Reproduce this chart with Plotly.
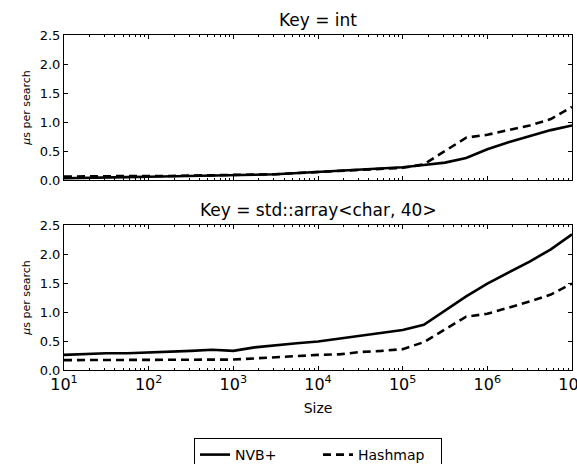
import plotly.graph_objects as go
from plotly.subplots import make_subplots

# Data (sizes at quarter-decade steps)
sizes = [10, 17.78, 31.62, 56.23, 100, 177.8, 316.2, 562.3, 1000, 1778, 3162, 5623,
         1e4, 1.778e4, 3.162e4, 5.623e4, 1e5, 1.778e5, 3.162e5, 5.623e5, 1e6,
         1.778e6, 3.162e6, 5.623e6, 1e7]

int_nvb = [0.03, 0.04, 0.045, 0.05, 0.055, 0.06, 0.065, 0.07, 0.08, 0.09, 0.10, 0.12,
           0.14, 0.16, 0.18, 0.20, 0.22, 0.26, 0.30, 0.38, 0.53, 0.65, 0.75, 0.86, 0.94]
int_hash = [0.06, 0.065, 0.065, 0.07, 0.07, 0.07, 0.075, 0.075, 0.08, 0.09, 0.10, 0.12,
            0.14, 0.16, 0.17, 0.19, 0.21, 0.27, 0.50, 0.73, 0.78, 0.86, 0.94, 1.05, 1.26]

arr_nvb = [0.26, 0.28, 0.29, 0.29, 0.30, 0.31, 0.33, 0.35, 0.33, 0.39, 0.43, 0.46,
           0.49, 0.54, 0.59, 0.64, 0.69, 0.78, 1.02, 1.27, 1.49, 1.68, 1.87, 2.08, 2.34]
arr_hash = [0.17, 0.17, 0.18, 0.17, 0.17, 0.17, 0.17, 0.17, 0.18, 0.20, 0.22, 0.25,
            0.26, 0.27, 0.31, 0.33, 0.36, 0.48, 0.70, 0.92, 0.97, 1.07, 1.18, 1.30, 1.49]

titles = ["Key = int", "Key = std::array&lt;char, 40&gt;"]
series_names = ["NVB+", "Hashmap"]
xtick_vals = [10, 100, 1000, 1e4, 1e5, 1e6, 1e7]
xtick_text = ["10<sup>1</sup>", "10<sup>2</sup>", "10<sup>3</sup>", "10<sup>4</sup>",
              "10<sup>5</sup>", "10<sup>6</sup>", "10<sup>7</sup>"]
ytick_vals = [0.0, 0.5, 1.0, 1.5, 2.0, 2.5]

FONT = "DejaVu Sans"
plot_h = 464 - 35 - 94
vspace = 45 / plot_h

fig = make_subplots(rows=2, cols=1, vertical_spacing=vspace)

data = [(int_nvb, int_hash), (arr_nvb, arr_hash)]
for r, (nvb, hsh) in enumerate(data, start=1):
    fig.add_trace(go.Scatter(x=sizes, y=nvb, mode="lines", name=series_names[0],
                             line=dict(color="black", width=2.6),
                             showlegend=(r == 1)), row=r, col=1)
    fig.add_trace(go.Scatter(x=sizes, y=hsh, mode="lines", name=series_names[1],
                             line=dict(color="black", width=2.6, dash="8px,5px"),
                             showlegend=(r == 1)), row=r, col=1)

axis_common = dict(showline=True, linecolor="black", linewidth=1, mirror="allticks",
                   ticks="inside", tickcolor="black", ticklen=4, showgrid=False,
                   zeroline=False, automargin=False)

for r in (1, 2):
    fig.update_xaxes(type="log", range=[1, 7], tickvals=xtick_vals, ticktext=xtick_text,
                     showticklabels=(r == 2), ticklabeloverflow="allow",
                     tickfont=dict(family=FONT, size=16, color="black"),
                     minor=dict(ticks="inside", ticklen=2, tickcolor="black", dtick="D1",
                                showgrid=False),
                     row=r, col=1, **axis_common)
    fig.update_yaxes(range=[0, 2.5], tickvals=ytick_vals, tickformat=".1f",
                     tickfont=dict(family=FONT, size=13, color="black"),
                     title=dict(text="<i>μ</i>s per search", standoff=6,
                                font=dict(family=FONT, size=11, color="black")),
                     row=r, col=1, **axis_common)

fig.update_xaxes(title=dict(text="Size", standoff=9,
                            font=dict(family=FONT, size=14, color="black")), row=2, col=1)

# Subplot titles
tops = [1.0, 145 / plot_h]
for t, ytop in zip(titles, tops):
    fig.add_annotation(text=t, x=0.5, xref="paper", y=ytop, yref="paper",
                       xanchor="center", yanchor="bottom", yshift=3, showarrow=False,
                       font=dict(family=FONT, size=17, color="black"))

fig.update_layout(
    width=577, height=464,
    margin=dict(l=64, r=5, t=35, b=94, autoexpand=False),
    paper_bgcolor="white", plot_bgcolor="white",
    font=dict(family=FONT, color="black"),
    legend=dict(orientation="h", x=0.5, xanchor="center", y=(370 - 438) / plot_h,
                yanchor="top", bordercolor="black", borderwidth=1,
                entrywidth=78, entrywidthmode="pixels",
                font=dict(family=FONT, size=14, color="black"),
                bgcolor="white"),
)

fig.write_html("out.html",
               config={"displayModeBar": False},
               post_script="document.body.style.margin='0px';"
                           "document.body.style.overflow='hidden';")
